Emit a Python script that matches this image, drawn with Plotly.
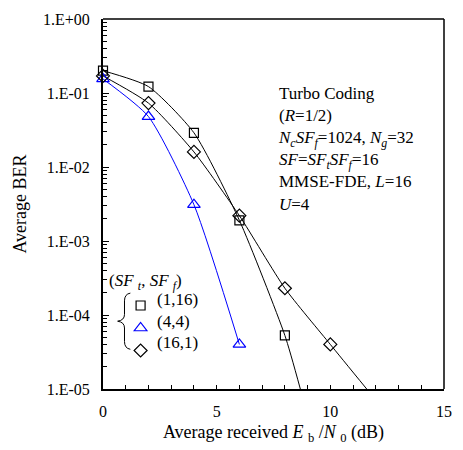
import plotly.graph_objects as go

# ---- data ----
snr_sq = [0, 2, 4, 6, 8]
ber_sq = [0.2, 0.122, 0.029, 0.0019, 5.3e-5]
tail_sq = ([8.68], [1e-5])          # where the fitted curve leaves the plot

snr_tr = [0, 2, 4, 6]
ber_tr = [0.155, 0.048, 0.0031, 4.0e-5]

snr_di = [0, 2, 4, 6, 8, 10]
ber_di = [0.17, 0.073, 0.016, 0.0022, 2.3e-4, 4.0e-5]
tail_di = ([11.6], [1e-5])

series_names = ["(1,16)", "(4,4)", "(16,1)"]
y_tickvals = [1, 1e-1, 1e-2, 1e-3, 1e-4, 1e-5]
y_ticktext = ["1.E+00", "1.E-01", "1.E-02", "1.E-03", "1.E-04", "1.E-05"]
x_tickvals = [0, 5, 10, 15]

FONT = "Liberation Serif, Times New Roman, serif"
BLUE = "#0000FF"

fig = go.Figure()

# curves
fig.add_trace(go.Scatter(x=snr_sq + tail_sq[0], y=ber_sq + tail_sq[1], mode="lines",
                         line=dict(color="black", width=1, shape="spline", smoothing=0.6),
                         showlegend=False, hoverinfo="skip"))
fig.add_trace(go.Scatter(x=snr_di + tail_di[0], y=ber_di + tail_di[1], mode="lines",
                         line=dict(color="black", width=1, shape="spline", smoothing=0.6),
                         showlegend=False, hoverinfo="skip"))
fig.add_trace(go.Scatter(x=snr_tr, y=ber_tr, mode="lines",
                         line=dict(color=BLUE, width=1, shape="spline", smoothing=0.6),
                         showlegend=False, hoverinfo="skip"))

# markers (also legend symbols; legend labels are drawn as annotations)
fig.add_trace(go.Scatter(x=snr_sq, y=ber_sq, mode="markers", name=" ",
                         marker=dict(symbol="square-open", size=9, color="black",
                                     line=dict(width=1.2)), cliponaxis=False))
fig.add_trace(go.Scatter(x=snr_tr, y=ber_tr, mode="markers", name=" ",
                         marker=dict(symbol="triangle-up-open", size=11, color=BLUE,
                                     line=dict(width=1.2)), cliponaxis=False))
fig.add_trace(go.Scatter(x=snr_di, y=ber_di, mode="markers", name=" ",
                         marker=dict(symbol="diamond-open", size=10, color="black",
                                     line=dict(width=1.2)), cliponaxis=False))

L, R, T, B = 103, 11, 14, 54
W, H = 463, 450
pw, ph = W - L - R, H - T - B

def px(xp):
    return (xp - L) / pw

def py(yp):
    return (H - B - yp) / ph

# brace for legend
brace = (f"M {px(131)},{py(297)} "
         f"Q {px(125)},{py(298)} {px(125)},{py(305)} "
         f"L {px(125)},{py(319)} "
         f"Q {px(125)},{py(325)} {px(118)},{py(326)} "
         f"Q {px(125)},{py(327)} {px(125)},{py(333)} "
         f"L {px(125)},{py(347)} "
         f"Q {px(125)},{py(354)} {px(131)},{py(355)}")

row_y = [304, 326, 348]
label_ann = [dict(xref="paper", yref="paper", x=px(156), y=py(yy), xanchor="left",
                  yanchor="middle", showarrow=False, font=dict(family=FONT, size=17),
                  text=nm) for nm, yy in zip(series_names, row_y)]

fig.update_layout(
    width=W, height=H,
    margin=dict(l=L, r=R, t=T, b=B),
    paper_bgcolor="white", plot_bgcolor="white",
    font=dict(family=FONT, size=15, color="black"),
    showlegend=True,
    legend=dict(x=px(121), y=py(row_y[0] - 11), xanchor="left", yanchor="top",
                bgcolor="rgba(0,0,0,0)", font=dict(family=FONT, size=15),
                tracegroupgap=0, itemwidth=30),
    xaxis=dict(range=[0, 15], tickvals=x_tickvals, ticks="inside", ticklen=4,
               tickcolor="black", showline=True, linewidth=2, linecolor="black",
               showgrid=False, zeroline=False, tickfont=dict(size=16),
               ticklabelstandoff=7,
               minor=dict(dtick=1, ticks="inside", ticklen=4, tickcolor="black", showgrid=False),
               title=dict(text="Average received <i>E</i> <sub>b</sub> /<i>N</i> <sub>0</sub> (dB)",
                          font=dict(size=18), standoff=6)),
    yaxis=dict(type="log", range=[-5, 0], tickvals=y_tickvals, ticktext=y_ticktext,
               ticks="inside", ticklen=6, tickcolor="black", showline=True, linewidth=2,
               linecolor="black", showgrid=False, zeroline=False, tickfont=dict(size=16),
               ticklabelstandoff=8,
               minor=dict(dtick="D1", ticks="inside", ticklen=4, tickcolor="black", showgrid=False),
               title=dict(text="Average BER", font=dict(size=18), standoff=12)),
    shapes=[
        dict(type="line", xref="paper", yref="paper", x0=0, x1=1, y0=1, y1=1,
             line=dict(color="black", width=1.3)),
        dict(type="line", xref="paper", yref="paper", x0=1, x1=1, y0=0, y1=1,
             line=dict(color="black", width=1.5)),
        dict(type="path", xref="paper", yref="paper", path=brace,
             line=dict(color="black", width=1)),
    ],
    annotations=[
        dict(xref="paper", yref="paper", x=px(280), y=py(79), xanchor="left", yanchor="top",
             align="left", showarrow=False, font=dict(family=FONT, size=17),
             text=("Turbo Coding<br>(<i>R</i>=1/2)<br>"
                   "<i>N</i><sub><i>c</i></sub><i>SF</i><sub><i>f</i></sub>=1024, <i>N</i><sub><i>g</i></sub>=32<br>"
                   "<i>SF</i>=<i>SF</i><sub><i>t</i></sub><i>SF</i><sub><i>f</i></sub>=16<br>"
                   "MMSE-FDE, <i>L</i>=16<br><i>U</i>=4")),
        dict(xref="paper", yref="paper", x=px(107), y=py(286), xanchor="left", yanchor="middle",
             showarrow=False, font=dict(family=FONT, size=17),
             text="(<i>SF</i> <sub><i>t</i></sub>, <i>SF</i> <sub><i>f</i></sub>)"),
    ] + label_ann,
)

fig.write_html("out.html", config={"displayModeBar": False},
               post_script="document.body.style.margin='0';")
